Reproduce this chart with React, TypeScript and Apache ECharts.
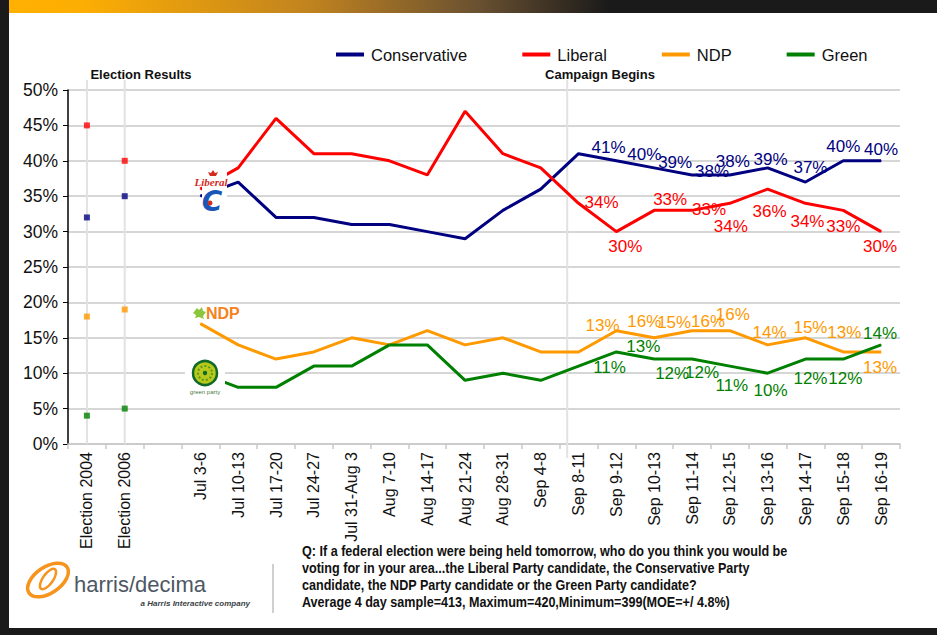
import React, { useEffect, useRef } from 'react';
import * as echarts from 'echarts';

// ---------- data ----------
const electionCategories = ['Election 2004', 'Election 2006'];
const pollCategories = [
  'Jul 3-6', 'Jul 10-13', 'Jul 17-20', 'Jul 24-27', 'Jul 31-Aug 3', 'Aug 7-10', 'Aug 14-17',
  'Aug 21-24', 'Aug 28-31', 'Sep 4-8', 'Sep 8-11', 'Sep 9-12', 'Sep 10-13', 'Sep 11-14',
  'Sep 12-15', 'Sep 13-16', 'Sep 14-17', 'Sep 15-18', 'Sep 16-19',
];
const categories = [...electionCategories, '', ...pollCategories];

const electionConservative = [32, 35];
const electionLiberal = [45, 40];
const electionNDP = [18, 19];
const electionGreen = [4, 5];

const pollConservative = [35, 37, 32, 32, 31, 31, 30, 29, 33, 36, 41, 40, 39, 38, 38, 39, 37, 40, 40];
const pollLiberal = [36, 39, 46, 41, 41, 40, 38, 47, 41, 39, 34, 30, 33, 33, 34, 36, 34, 33, 30];
const pollNDP = [17, 14, 12, 13, 15, 14, 16, 14, 15, 13, 13, 16, 15, 16, 16, 14, 15, 13, 13];
const pollGreen = [10, 8, 8, 11, 11, 14, 14, 9, 10, 9, 11, 13, 12, 12, 11, 10, 12, 12, 14];

const seriesNames = ['Conservative', 'Liberal', 'NDP', 'Green'];
const yTickValues = { min: 0, max: 50, interval: 5 };

const questionLines = [
  'Q: If a federal election were being held tomorrow, who do you think you would be',
  'voting for in your area...the Liberal Party candidate, the Conservative Party',
  'candidate, the NDP Party candidate or the Green Party candidate?',
  'Average 4 day sample=413, Maximum=420,Minimum=399(MOE=+/ 4.8%)',
];

// first labelled poll (Sep 8-11)
const labelStart = 10;

// ---------- styling / layout (label offsets from each point, px) ----------
const consLabelOffsets = [[30, -6], [28, -6], [21, -5], [20, -3], [3, -13], [3, -8], [5, -15], [0, -14], [0, -11]];
const libLabelOffsets = [[23, -1], [9, 15], [16, -11], [17, -1], [1, 23], [2, 22], [2, 18], [0, 16], [-1, 15]];
const ndpLabelOffsets = [[24, -26], [28, -9], [20, -15], [16, -9], [3, -16], [2, -12], [5, -10], [1, -19], [-1, 16]];
const greenLabelOffsets = [[31, 1], [27, -5], [18, 14], [10, 13], [2, 19], [3, 17], [5, 19], [2, 19], [-1, -11]];

const colors = ['#000080', '#ff0000', '#ff9900', '#008000'];
const FONT = '"Liberation Sans", Arial, Helvetica, sans-serif';

function buildPollData(values: number[], offsets: number[][]) {
  const lead = new Array(electionCategories.length + 1).fill(null);
  const items = values.map((v, i) => {
    const k = i - labelStart;
    if (k >= 0 && k < offsets.length) {
      return { value: v, label: { show: true, offset: offsets[k] } };
    }
    return v;
  });
  return [...lead, ...items];
}

function pollSeries(name: string, values: number[], offsets: number[][], color: string) {
  return {
    name,
    type: 'line',
    data: buildPollData(values, offsets),
    connectNulls: false,
    symbol: 'circle',
    symbolSize: 1,
    showSymbol: true,
    showAllSymbol: true,
    itemStyle: { color },
    lineStyle: { color, width: 3 },
    label: {
      show: false,
      position: 'inside',
      formatter: '{c}%',
      color,
      fontSize: 17,
      fontFamily: FONT,
    },
    emphasis: { disabled: true },
    z: 3,
  };
}

function electionSeries(name: string, values: number[], color: string) {
  return {
    name: name + ' (election)',
    type: 'scatter',
    data: values.map((v, i) => [electionCategories[i], v]),
    symbol: 'rect',
    symbolSize: 6,
    itemStyle: { color },
    emphasis: { disabled: true },
    z: 3,
  };
}

export default function App() {
  const ref = useRef<HTMLDivElement>(null);

  useEffect(() => {
    document.body.style.margin = '0';
    const chart = echarts.init(ref.current!, null, { renderer: 'svg' });

    const option: any = {
      animation: false,
      backgroundColor: '#1a1a1a',
      textStyle: { fontFamily: FONT },
      grid: { left: 68, right: 37, top: 90, bottom: 191, containLabel: false },
      legend: {
        data: seriesNames,
        left: 331,
        top: 41,
        icon: 'rect',
        itemWidth: 28,
        itemHeight: 4,
        itemGap: 55,
        textStyle: { fontSize: 16.5, color: '#111', fontFamily: FONT, padding: [0, 0, 0, 2] },
        selectedMode: false,
      },
      xAxis: {
        type: 'category',
        data: categories,
        boundaryGap: true,
        axisLine: { lineStyle: { color: '#c8c8c8', width: 1.5 } },
        axisTick: { show: true, length: 5, lineStyle: { color: '#c8c8c8', width: 1.5 } },
        axisLabel: {
          rotate: 90,
          interval: 0,
          margin: 8,
          fontSize: 16,
          color: '#111',
          fontFamily: FONT,
        },
        splitLine: { show: false },
      },
      yAxis: {
        type: 'value',
        min: yTickValues.min,
        max: yTickValues.max,
        interval: yTickValues.interval,
        axisLine: { show: true, lineStyle: { color: '#000', width: 1.5 } },
        axisTick: { show: true, length: 5, lineStyle: { color: '#000' } },
        axisLabel: {
          formatter: '{value}%',
          fontSize: 17.5,
          color: '#111',
          margin: 10,
          fontFamily: FONT,
        },
        splitLine: { show: true, lineStyle: { color: '#c9c9c9', width: 1.5 } },
      },
      series: [
        pollSeries('Conservative', pollConservative, consLabelOffsets, colors[0]),
        pollSeries('Liberal', pollLiberal, libLabelOffsets, colors[1]),
        pollSeries('NDP', pollNDP, ndpLabelOffsets, colors[2]),
        pollSeries('Green', pollGreen, greenLabelOffsets, colors[3]),
        electionSeries('Conservative', electionConservative, colors[0]),
        electionSeries('Liberal', electionLiberal, colors[1]),
        electionSeries('NDP', electionNDP, colors[2]),
        electionSeries('Green', electionGreen, colors[3]),
      ],
    };
    chart.setOption(option);

    const px = (c: string) => chart.convertToPixel({ xAxisIndex: 0 }, c) as number;
    const py = (v: number) => chart.convertToPixel({ yAxisIndex: 0 }, v) as number;
    const yTop = py(yTickValues.max) - 10;
    const yBottom = py(yTickValues.min);
    const xE04 = px(electionCategories[0]);
    const xE06 = px(electionCategories[1]);
    const xA = px('Sep 4-8');
    const xB = px('Sep 8-11');
    const xCampaign = xA + (xB - xA) * 0.7;

    const refLine = (x: number, y2: number) => ({
      type: 'line',
      z: 1,
      shape: { x1: x, y1: yTop, x2: x, y2 },
      style: { stroke: '#e2e2e2', lineWidth: 2 },
      silent: true,
    });

    const graphic: any[] = [
      // top banner gradient
      {
        type: 'rect', z: -10, silent: true,
        shape: { x: 9, y: 0, width: 600, height: 13 },
        style: {
          fill: new echarts.graphic.LinearGradient(0, 0, 1, 0, [
            { offset: 0, color: '#ffb000' },
            { offset: 0.12, color: '#fdae03' },
            { offset: 0.5, color: '#c1831f' },
            { offset: 0.78, color: '#6a5131' },
            { offset: 1, color: '#1a1a1a' },
          ]),
        },
      },
      // white panel
      {
        type: 'rect', z: -10, silent: true,
        shape: { x: 9, y: 13, width: 928, height: 615 },
        style: { fill: '#ffffff' },
      },
      refLine(xE04, yBottom),
      refLine(xE06, yBottom),
      refLine(xCampaign, yBottom + 14),
      // headings
      {
        type: 'text', z: 20, silent: true, x: 141, y: 74,
        style: { text: 'Election Results', font: `bold 13px ${FONT}`, fill: '#111', align: 'center', verticalAlign: 'middle' },
      },
      {
        type: 'text', z: 20, silent: true, x: 600, y: 74,
        style: { text: 'Campaign Begins', font: `bold 13px ${FONT}`, fill: '#111', align: 'center', verticalAlign: 'middle' },
      },
      // Liberal / Conservative logos (cover box)
      {
        type: 'rect', z: 50, silent: true,
        shape: { x: 202, y: 168, width: 25, height: 46 },
        style: { fill: '#ffffff' },
      },
      {
        type: 'polygon', z: 60, silent: true,
        shape: { points: [[213, 170], [215, 173], [218, 172], [216, 176], [210, 176], [208, 172], [211, 173]] },
        style: { fill: '#d52b1e' },
      },
      {
        type: 'text', z: 60, silent: true, x: 211, y: 182,
        style: { text: 'Liberal', font: `italic bold 11px "Liberation Serif", serif`, fill: '#d52b1e', align: 'center', verticalAlign: 'middle' },
      },
      {
        type: 'text', z: 60, silent: true, x: 212, y: 201,
        style: { text: 'C', font: `italic bold 28px "DejaVu Sans", sans-serif`, fill: '#1a56b8', align: 'center', verticalAlign: 'middle' },
      },
      {
        type: 'circle', z: 61, silent: true,
        shape: { cx: 210, cy: 203, r: 2.5 },
        style: { fill: '#d52b1e' },
      },
      // NDP logo
      {
        type: 'polygon', z: 60, silent: true,
        shape: { points: [[193, 313], [197, 308], [199, 310], [202, 307], [203, 311], [206, 312], [203, 316], [204, 319], [199, 317], [195, 318], [196, 315]] },
        style: { fill: '#8cc63f' },
      },
      {
        type: 'text', z: 60, silent: true, x: 206, y: 313,
        style: { text: 'NDP', font: `bold 16px ${FONT}`, fill: '#f58220', align: 'left', verticalAlign: 'middle' },
      },
      // Green party logo
      {
        type: 'rect', z: 50, silent: true,
        shape: { x: 185, y: 359, width: 40, height: 38 },
        style: { fill: '#ffffff' },
      },
      {
        type: 'circle', z: 60, silent: true,
        shape: { cx: 205, cy: 373, r: 12 },
        style: { fill: '#b9c91c', stroke: '#0f6a2a', lineWidth: 2.5 },
      },
      {
        type: 'circle', z: 61, silent: true,
        shape: { cx: 205, cy: 373, r: 7 },
        style: { fill: 'none', stroke: '#5b9a1f', lineWidth: 2, lineDash: [2, 2] },
      },
      {
        type: 'circle', z: 62, silent: true,
        shape: { cx: 205, cy: 373, r: 2.2 },
        style: { fill: '#0f6a2a' },
      },
      {
        type: 'text', z: 60, silent: true, x: 205, y: 392,
        style: { text: 'green party', font: `6px ${FONT}`, fill: '#4c7a3c', align: 'center', verticalAlign: 'middle' },
      },
      // harris/decima logo
      {
        type: 'ellipse', z: 20, silent: true, x: 48, y: 580, rotation: 0.6,
        shape: { cx: 0, cy: 0, rx: 23, ry: 13 },
        style: { fill: 'none', stroke: '#f7941d', lineWidth: 3.5 },
      },
      {
        type: 'ellipse', z: 20, silent: true, x: 48, y: 579, rotation: 0.95,
        shape: { cx: 0, cy: 0, rx: 12, ry: 5 },
        style: { fill: 'none', stroke: '#f7941d', lineWidth: 2.5 },
      },
      {
        type: 'text', z: 20, silent: true, x: 74, y: 584,
        style: { text: 'harris/decima', font: `22px ${FONT}`, fill: '#4d5863', align: 'left', verticalAlign: 'middle' },
      },
      {
        type: 'text', z: 20, silent: true, x: 250, y: 603,
        style: { text: 'a Harris Interactive company', font: `italic bold 8px ${FONT}`, fill: '#3a3f45', align: 'right', verticalAlign: 'middle' },
      },
      {
        type: 'line', z: 20, silent: true,
        shape: { x1: 273, y1: 564, x2: 273, y2: 613 },
        style: { stroke: '#a0a0a0', lineWidth: 1 },
      },
      // question text
      ...questionLines.map((t, i) => ({
        type: 'text', z: 20, silent: true, x: 302, y: 551 + i * 17, scaleX: 0.9,
        style: { text: t, font: `bold 14px ${FONT}`, fill: '#111', align: 'left', verticalAlign: 'middle' },
      })),
    ];

    chart.setOption({ graphic });

    return () => chart.dispose();
  }, []);

  return <div ref={ref} style={{ width: 937, height: 635 }} />;
}
